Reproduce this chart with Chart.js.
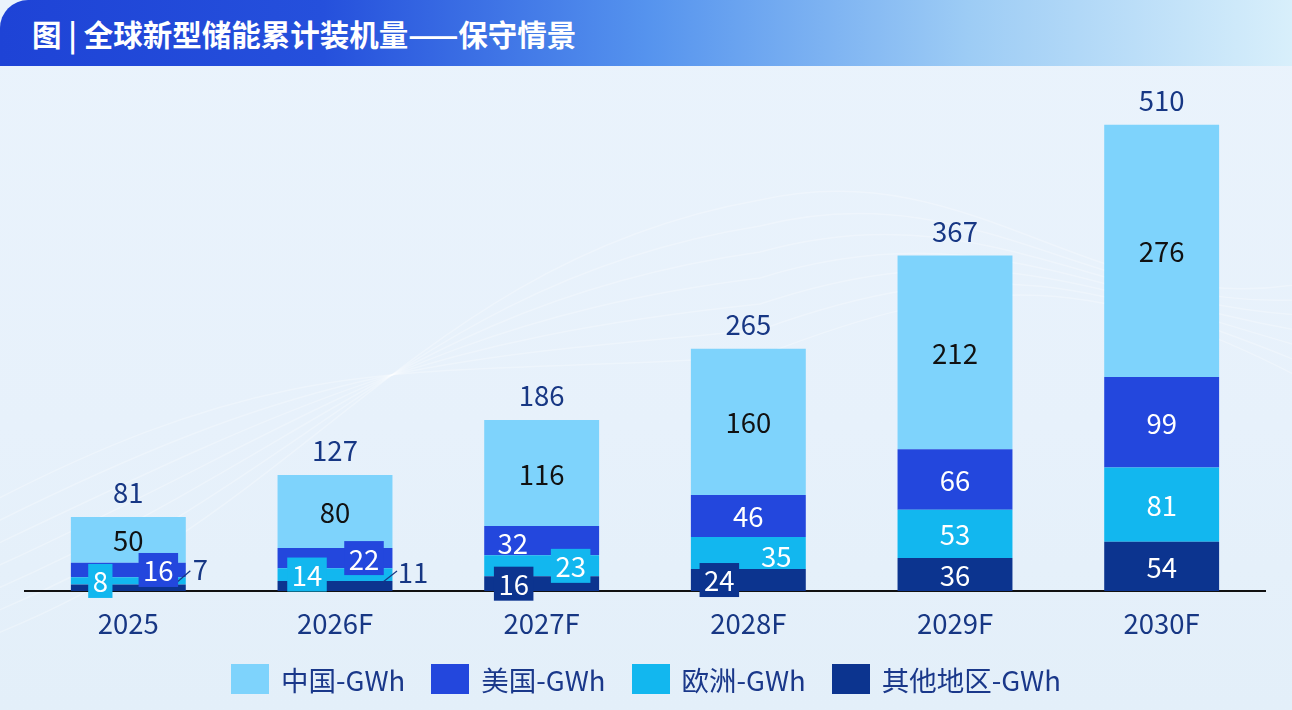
<!DOCTYPE html>
<html>
<head>
<meta charset="utf-8">
<script src="https://cdn.jsdelivr.net/npm/chart.js@4.4.1/dist/chart.umd.min.js"></script>
<style>
  body { margin: 0; background: #e9f2fb; }
  .page {
    position: relative; width: 1292px; height: 710px; overflow: hidden;
    background: linear-gradient(180deg, #eaf3fc 0%, #e7f1fb 60%, #e3eff9 100%);
    font-family: "Noto Sans CJK SC", "Noto Sans", sans-serif;
  }
  .header {
    position: absolute; left: 0; top: 0; width: 1292px; height: 66px; z-index: 2;
    border-top-left-radius: 28px;
    background: linear-gradient(90deg, #1e43d6 0%, #2550dc 25%, #5593ee 50%, #9dccf5 75%, #d8effb 100%);
    color: #fff; font-weight: 700; font-size: 29.5px; line-height: 66px;
    padding-left: 32px; box-sizing: border-box; white-space: pre;
  }
  #chart { position: absolute; left: 0; top: 0; }
  .legend {
    position: absolute; left: 0; top: 664px; width: 1292px; height: 30px;
    display: flex; justify-content: center; align-items: center;
  }
  .legend-item { display: flex; align-items: center; margin: 0 13px; }
  .legend-box { width: 38px; height: 30px; }
  .legend-text { margin-left: 12px; font-size: 27.5px; line-height: 30px; color: #1a388a; }
</style>
</head>
<body>
<div class="page">
  <div class="header">图 | 全球新型储能累计装机量——保守情景</div>
  <canvas id="chart" width="1292" height="710"></canvas>
  <div class="legend" id="legend"></div>
</div>
<script>
const categories = ["2025", "2026F", "2027F", "2028F", "2029F", "2030F"];
const chinaGWh = [50, 80, 116, 160, 212, 276];
const usGWh = [16, 22, 32, 46, 66, 99];
const europeGWh = [8, 14, 23, 35, 53, 81];
const otherGWh = [7, 11, 16, 24, 36, 54];
const totalGWh = [81, 127, 186, 265, 367, 510];

const seriesNames = ["其他地区-GWh", "欧洲-GWh", "美国-GWh", "中国-GWh"];
const seriesColors = ["#0c348f", "#12b7ef", "#2347dd", "#7ed3fc"];
const labelColors = ["#ffffff", "#ffffff", "#ffffff", "#111111"];
const NAVY = "#173784";
const FONT = '"Noto Sans CJK SC", "Noto Sans", sans-serif';

// small segments get their labels moved aside (datasetIndex -> dataIndex -> tweak)
const labelTweaks = {
  0: {
    0: { dx: 72, dy: -19, color: NAVY, line: [48, -5, 62, -17] },
    1: { dx: 78, dy: -14, color: NAVY, line: [48, -4, 62, -15] },
    2: { dx: -28, dy: 0, box: true },
    3: { dx: -29, dy: 0, box: true },
  },
  1: {
    0: { dx: -28, dy: 0, box: true },
    1: { dx: -28, dy: 0, box: true },
    2: { dx: 29, dy: 0, box: true },
    3: { dx: 28, dy: 2 },
  },
  2: {
    0: { dx: 30, dy: 0, box: true },
    1: { dx: 29, dy: 0, box: true },
    2: { dx: -29, dy: 2 },
  },
};

const segmentLabels = {
  id: "segmentLabels",
  afterDatasetsDraw(chart) {
    const ctx = chart.ctx;
    ctx.save();
    ctx.font = "27.5px " + FONT;
    ctx.textAlign = "center";
    ctx.textBaseline = "middle";
    chart.data.datasets.forEach((ds, di) => {
      const meta = chart.getDatasetMeta(di);
      meta.data.forEach((bar, i) => {
        const cx = bar.x;
        const cy = (bar.y + bar.base) / 2;
        const t = (labelTweaks[di] && labelTweaks[di][i]) || { dx: 0, dy: 0 };
        const x = cx + t.dx;
        const y = cy + t.dy;
        const text = String(ds.data[i]);
        if (t.line) {
          ctx.strokeStyle = NAVY;
          ctx.lineWidth = 1.2;
          ctx.beginPath();
          ctx.moveTo(cx + t.line[0], cy + t.line[1]);
          ctx.lineTo(cx + t.line[2], cy + t.line[3]);
          ctx.stroke();
        }
        if (t.box) {
          const w = ctx.measureText(text).width + 9;
          ctx.fillStyle = seriesColors[di];
          ctx.fillRect(x - w / 2, y - 17, w, 34);
        }
        ctx.fillStyle = t.color || labelColors[di];
        ctx.fillText(text, x, y + 1);
      });
    });
    // totals above the stacks
    const topMeta = chart.getDatasetMeta(chart.data.datasets.length - 1);
    ctx.fillStyle = NAVY;
    topMeta.data.forEach((bar, i) => {
      ctx.fillText(String(totalGWh[i]), bar.x, bar.y - 24);
    });
    ctx.restore();
  },
};

const swirls = {
  id: "swirls",
  beforeDraw(chart) {
    const ctx = chart.ctx;
    ctx.save();
    ctx.strokeStyle = "rgba(255,255,255,0.28)";
    ctx.lineWidth = 1.5;
    for (let k = 0; k < 7; k++) {
      ctx.beginPath();
      ctx.moveTo(-20, 640 - k * 22);
      ctx.bezierCurveTo(300, 520 - k * 30, 420, 260 + k * 20, 760, 200 + k * 26);
      ctx.bezierCurveTo(980, 150 + k * 20, 1100, 330 - k * 10, 1320, 280 + k * 18);
      ctx.stroke();
    }
    ctx.restore();
  },
};

const datasets = [otherGWh, europeGWh, usGWh, chinaGWh].map((values, idx) => ({
  label: seriesNames[idx],
  data: values,
  backgroundColor: seriesColors[idx],
  borderWidth: 0,
  categoryPercentage: 1,
  barPercentage: 0.556,
}));

const chart = new Chart(document.getElementById("chart").getContext("2d"), {
  type: "bar",
  data: { labels: categories, datasets: datasets },
  options: {
    responsive: false,
    animation: false,
    layout: { padding: { left: 25, right: 27, top: 79, bottom: 54 } },
    plugins: { legend: { display: false }, tooltip: { enabled: false } },
    scales: {
      x: {
        stacked: true,
        grid: { display: false, drawTicks: false },
        border: { display: true, color: "#111111", width: 2 },
        ticks: { color: NAVY, font: { family: FONT, size: 27.5 }, padding: 16 },
      },
      y: { stacked: true, display: false, min: 0, max: 560 },
    },
  },
  plugins: [swirls, segmentLabels],
});

// legend, top series first like the reference
const $legend = document.getElementById("legend");
[3, 2, 1, 0].forEach(idx => {
  const item = document.createElement("div");
  item.className = "legend-item";
  const box = document.createElement("div");
  box.className = "legend-box";
  box.style.background = seriesColors[idx];
  const text = document.createElement("span");
  text.className = "legend-text";
  text.textContent = chart.data.datasets[idx].label;
  item.appendChild(box);
  item.appendChild(text);
  $legend.appendChild(item);
});
</script>
</body>
</html>
